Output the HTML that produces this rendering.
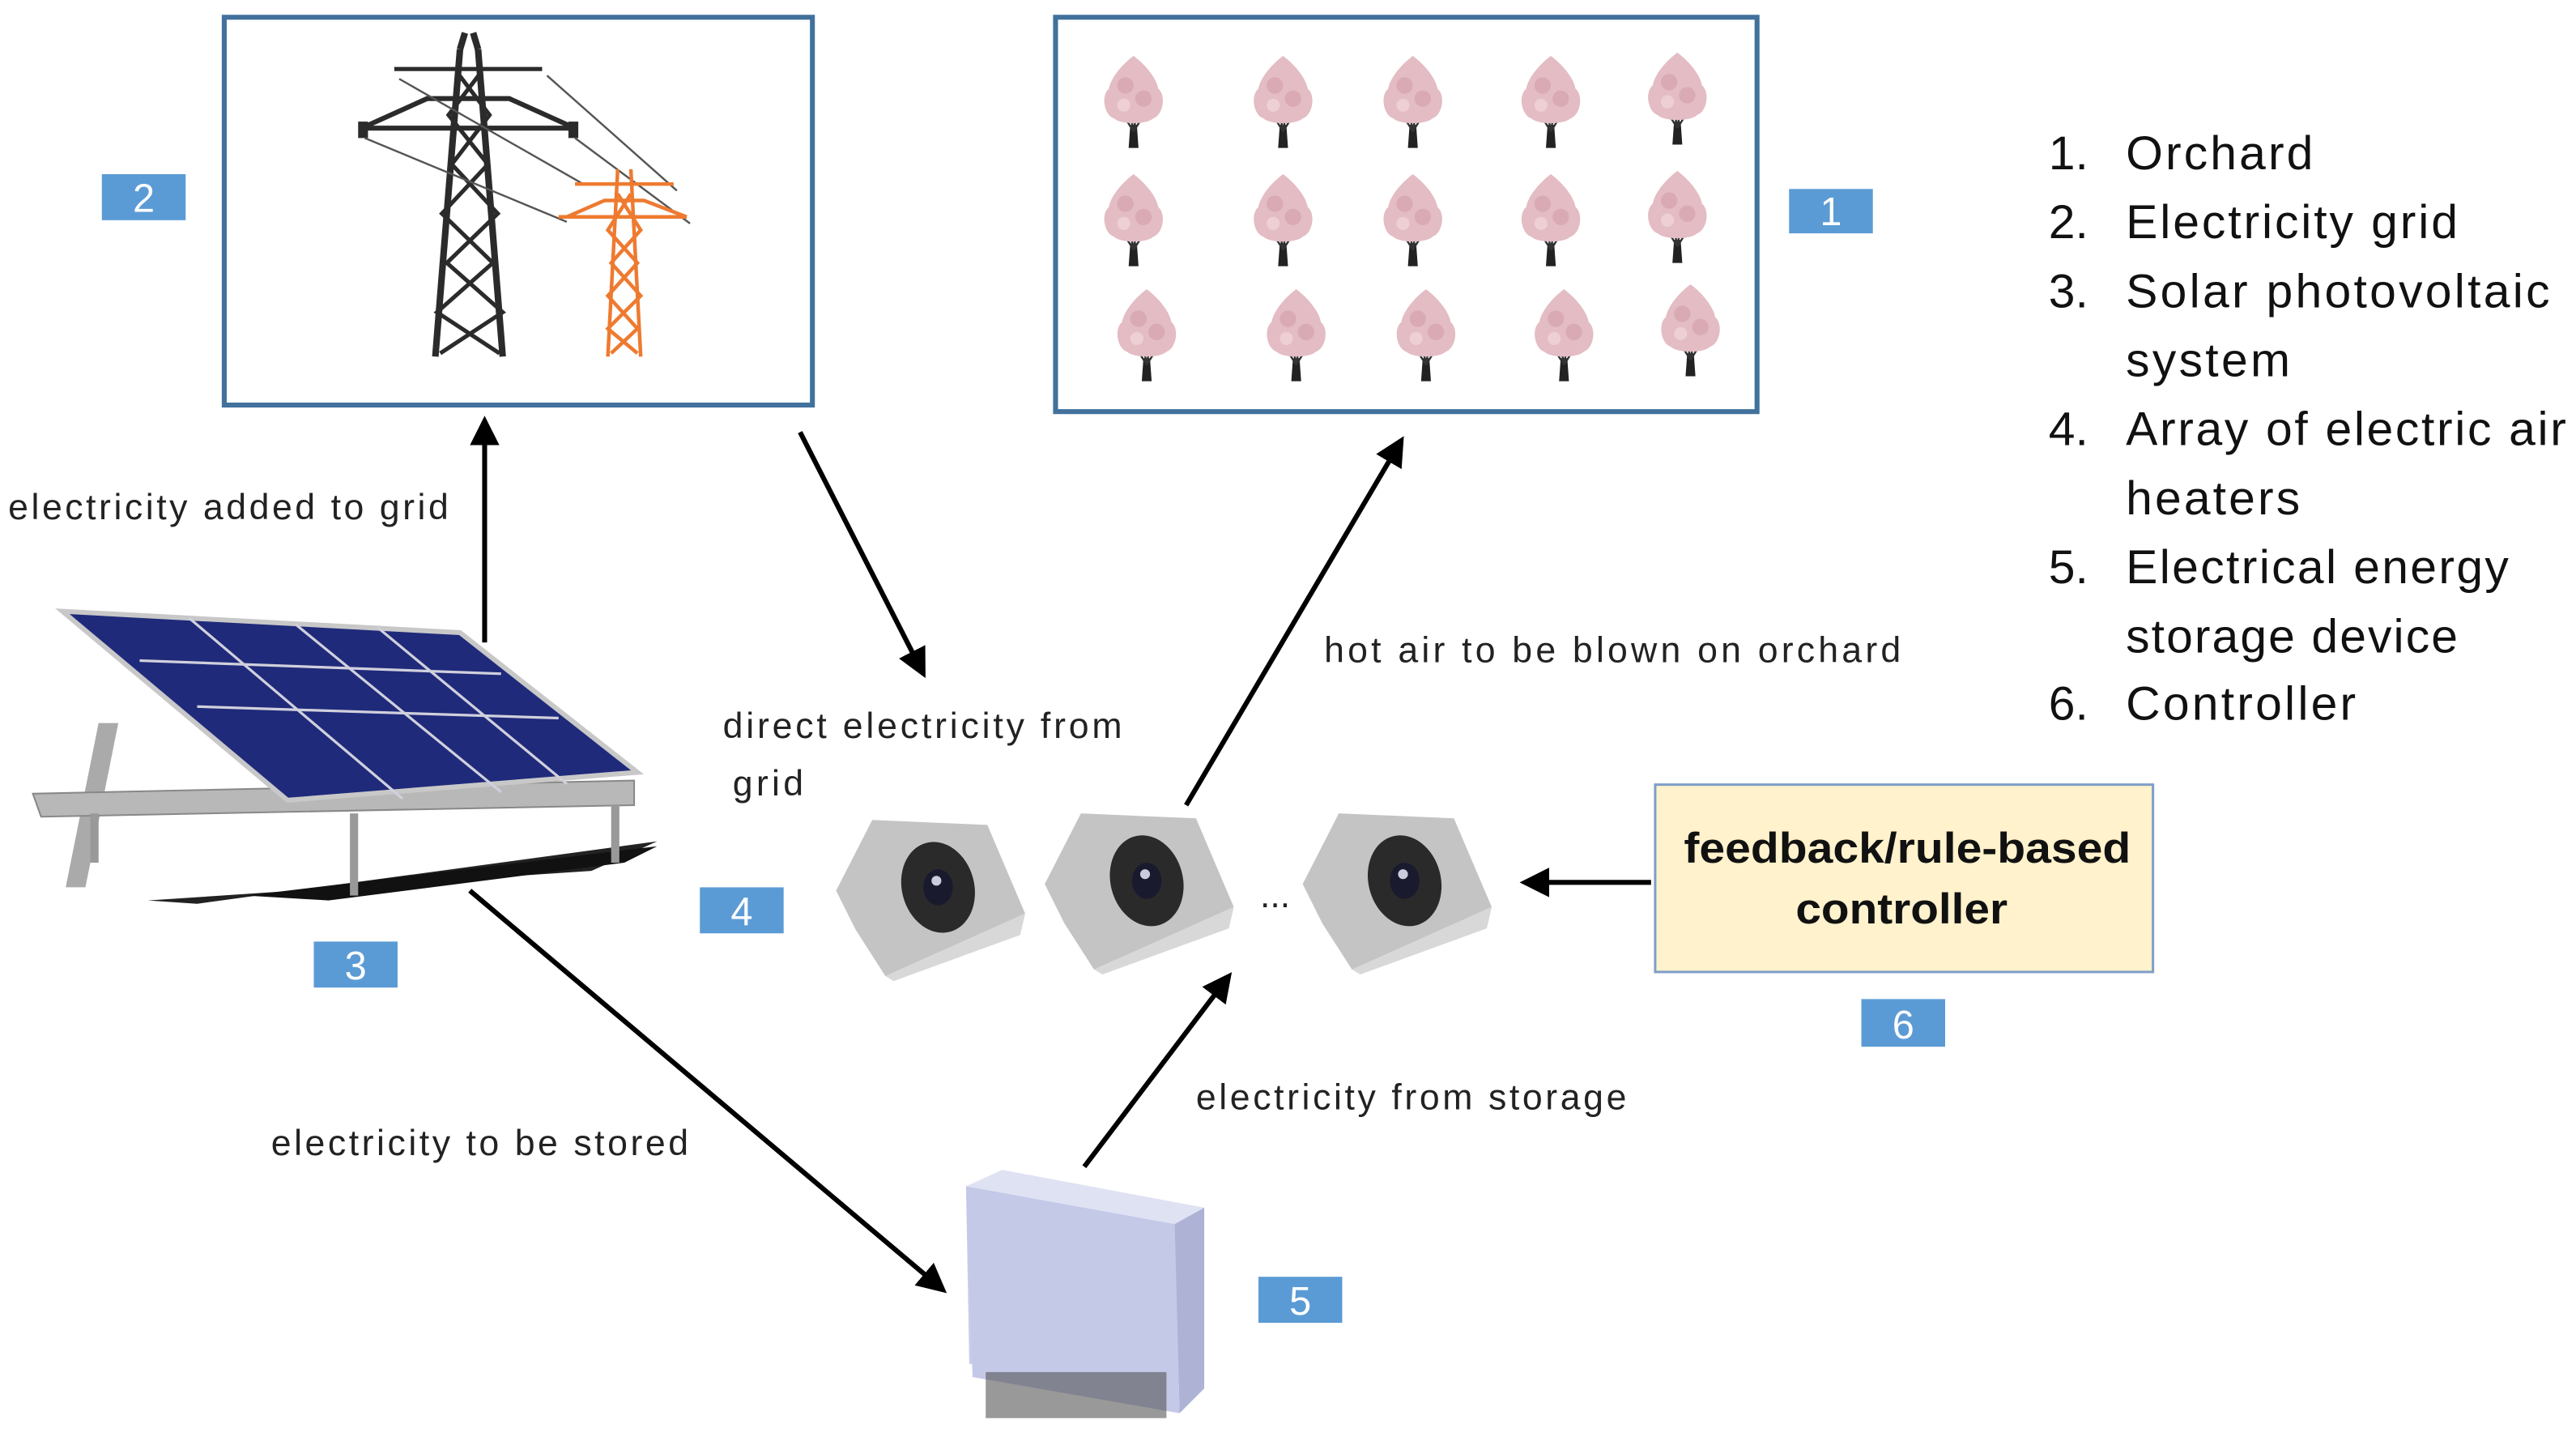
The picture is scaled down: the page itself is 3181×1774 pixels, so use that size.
<!DOCTYPE html>
<html><head><meta charset="utf-8"><style>
html,body{margin:0;padding:0;background:#fff;}
svg{display:block;}
text{font-family:"Liberation Sans",sans-serif;}
</style></head><body>
<svg width="3181" height="1774" viewBox="0 0 1568 874.5" preserveAspectRatio="none" xmlns="http://www.w3.org/2000/svg">
<defs>
<marker id="ah" markerWidth="6" markerHeight="6" refX="5" refY="3" orient="auto" markerUnits="strokeWidth">
<path d="M0,0 L6,3 L0,6 z" fill="#000"/></marker>
<g id="tree">
<path d="M-2,18 L-3,32 L3,32 L2,18 Z" fill="#222"/>
<path d="M0,22 L-10,6 M0,22 L10,6 M0,22 L-4,0 M0,22 L4,-2" stroke="#333" stroke-width="1.2"/>
<path d="M0,-24 C8,-18 14,-10 15,-4 C20,0 18,12 12,14 C8,18 -8,18 -12,14 C-18,12 -20,0 -15,-4 C-14,-10 -8,-18 0,-24 Z" fill="#e3bcc4"/>
<circle cx="-5" cy="-6" r="5" fill="#d6a2ae" opacity=".7"/>
<circle cx="6" cy="2" r="5" fill="#d6a2ae" opacity=".7"/>
<circle cx="-6" cy="6" r="4" fill="#efd3d8" opacity=".8"/>
</g>
<g id="heater">
<polygon points="22,5 0,48 12,72 30,100" fill="#b0b0b0"/>
<polygon points="22,5 92,8 115,62 30,100 12,72 0,48" fill="#c4c4c4"/>
<polygon points="30,100 115,62 112,75 35,103" fill="#d8d8d8"/>
<ellipse cx="62" cy="46" rx="22" ry="28" transform="rotate(-15 62 46)" fill="#2a2a2a"/>
<ellipse cx="62" cy="46" rx="9" ry="11" fill="#1a1a2e"/>
<circle cx="61" cy="42" r="3" fill="#ccd"/>
</g>
</defs>

<!-- Grid box -->
<rect x="136.5" y="10.5" width="358" height="236" fill="#fff" stroke="#41719c" stroke-width="3"/>
<g stroke="#2b2b2b" fill="none" stroke-width="4">
<path d="M265,217 L280,30 M306,217 L291,30"/>
<path d="M280,30 L283,20 M291,30 L288,20"/>
<path d="M220,78 L350,78 M220,78 L260,60 L310,60 L350,78" stroke-width="3"/>
<path d="M240,42 L330,42" stroke-width="2.5"/>
<path d="M279,45 L298,70 L275,100 L303,130 L272,160 L306,190 L268,215 M292,45 L273,70 L297,100 L269,130 L300,160 L266,190 L304,215" stroke-width="2.5"/>
</g>
<rect x="218" y="74" width="6" height="10" fill="#2b2b2b"/><rect x="346" y="74" width="6" height="10" fill="#2b2b2b"/>
<g stroke="#555" stroke-width="1.2">
<line x1="243" y1="48" x2="355" y2="112"/><line x1="222" y1="84" x2="345" y2="135"/>
<line x1="333" y1="46" x2="412" y2="116"/><line x1="350" y1="84" x2="420" y2="136"/>
</g>
<g stroke="#ee7a30" fill="none" stroke-width="2.2">
<path d="M370,217 L376,103 M390,217 L384,103"/>
<path d="M340,132 L418,132 M345,132 L368,122 L392,122 L418,132 M350,112 L410,112"/>
<path d="M376,118 L390,140 L372,160 L390,180 L370,200 L388,215 M384,118 L370,140 L388,160 L370,180 L388,200 L372,215"/>
</g>

<!-- Orchard box -->
<rect x="642.5" y="10.5" width="427" height="240" fill="#fff" stroke="#41719c" stroke-width="3"/>
<g>
<use href="#tree" x="690" y="58"/><use href="#tree" x="781" y="58"/><use href="#tree" x="860" y="58"/><use href="#tree" x="944" y="58"/><use href="#tree" x="1021" y="56"/>
<use href="#tree" x="690" y="130"/><use href="#tree" x="781" y="130"/><use href="#tree" x="860" y="130"/><use href="#tree" x="944" y="130"/><use href="#tree" x="1021" y="128"/>
<use href="#tree" x="698" y="200"/><use href="#tree" x="789" y="200"/><use href="#tree" x="868" y="200"/><use href="#tree" x="952" y="200"/><use href="#tree" x="1029" y="197"/>
</g>

<!-- Number labels -->
<g font-size="24" fill="#fff" text-anchor="middle">
<rect x="62" y="106" width="51" height="28" fill="#5b9bd5"/><text x="87.5" y="129">2</text>
<rect x="1089" y="115" width="51" height="27" fill="#5b9bd5"/><text x="1114.5" y="137">1</text>
<rect x="191" y="573" width="51" height="28" fill="#5b9bd5"/><text x="216.5" y="596">3</text>
<rect x="426" y="540" width="51" height="28" fill="#5b9bd5"/><text x="451.5" y="563">4</text>
<rect x="766" y="777" width="51" height="28" fill="#5b9bd5"/><text x="791.5" y="800">5</text>
<rect x="1133" y="608" width="51" height="29" fill="#5b9bd5"/><text x="1158.5" y="632">6</text>
</g>

<!-- Legend -->
<g font-size="29" fill="#111" lengthAdjust="spacingAndGlyphs">
<text x="1247" y="103">1.</text><text x="1294" y="103" textLength="114">Orchard</text>
<text x="1247" y="145">2.</text><text x="1294" y="145" textLength="202">Electricity grid</text>
<text x="1247" y="187">3.</text><text x="1294" y="187" textLength="258">Solar photovoltaic</text>
<text x="1294" y="229" textLength="100">system</text>
<text x="1247" y="271">4.</text><text x="1294" y="271" textLength="268">Array of electric air</text>
<text x="1294" y="313" textLength="106">heaters</text>
<text x="1247" y="355">5.</text><text x="1294" y="355" textLength="233">Electrical energy</text>
<text x="1294" y="397" textLength="202">storage device</text>
<text x="1247" y="438">6.</text><text x="1294" y="438" textLength="140">Controller</text>
</g>

<!-- Solar panel -->
<polygon points="60,440 40,540 52,540 72,440" fill="#aaa"/>
<polygon points="120,550 400,512 360,530 90,548" fill="#222"/>
<polygon points="150,545 400,515 380,525 200,548" fill="#111"/>
<polygon points="20,483 386,475 386,490 25,497" fill="#b8b8b8" stroke="#888"/>
<rect x="55" y="495" width="5" height="30" fill="#999"/><rect x="372" y="490" width="5" height="35" fill="#999"/><rect x="213" y="495" width="5" height="50" fill="#999"/>
<polygon points="38,372 280,385 388,470 175,487" fill="#1f2a7a" stroke="#c8c8c8" stroke-width="3"/>
<g stroke="#d0d0dd" stroke-width="1.6">
<line x1="115" y1="376" x2="245" y2="486"/><line x1="180" y1="380" x2="305" y2="482"/><line x1="230" y1="382" x2="345" y2="477"/>
<line x1="85" y1="402" x2="305" y2="410"/><line x1="120" y1="430" x2="340" y2="437"/>
</g>

<!-- Heaters -->
<use href="#heater" x="509" y="494"/>
<use href="#heater" x="636" y="490"/>
<use href="#heater" x="793" y="490"/>
<text x="767" y="552" font-size="22" fill="#222">...</text>

<!-- Storage -->
<polygon points="588,722 610,712 733,735 733,845 590,830" fill="#c9cde8"/>
<polygon points="588,722 610,712 733,735 715,745" fill="#dfe2f3"/>
<polygon points="715,745 733,735 733,845 718,860" fill="#aeb3d6"/>
<polygon points="588,722 715,745 718,860 592,838" fill="#c4c9e8"/>
<rect x="600" y="835" width="110" height="28" fill="#555" opacity=".6"/>

<!-- Controller -->
<rect x="1007.5" y="477.5" width="303" height="114" fill="#fff2cc" stroke="#7f9fc8" stroke-width="1.5"/>
<text x="1025" y="525" font-size="26" font-weight="bold" fill="#111" textLength="272" lengthAdjust="spacingAndGlyphs">feedback/rule-based</text>
<text x="1093" y="562" font-size="26" font-weight="bold" fill="#111" textLength="129" lengthAdjust="spacingAndGlyphs">controller</text>

<!-- Arrows -->
<g stroke="#000" stroke-width="3" fill="none" marker-end="url(#ah)">
<line x1="295" y1="391" x2="295" y2="256"/>
<line x1="487" y1="263" x2="562" y2="410"/>
<line x1="722" y1="490" x2="853" y2="268"/>
<line x1="1005" y1="537" x2="928" y2="537"/>
<line x1="660" y1="710" x2="748" y2="594"/>
<line x1="286" y1="542" x2="574" y2="785"/>
</g>

<!-- Connector labels -->
<g font-size="22" fill="#222" lengthAdjust="spacingAndGlyphs">
<text x="5" y="316" textLength="268">electricity added to grid</text>
<text x="440" y="449" textLength="243">direct electricity from</text>
<text x="446" y="484" textLength="43">grid</text>
<text x="806" y="403" textLength="351">hot air to be  blown on orchard</text>
<text x="728" y="675" textLength="262">electricity from storage</text>
<text x="165" y="703" textLength="254">electricity to be stored</text>
</g>
</svg>
</body></html>
